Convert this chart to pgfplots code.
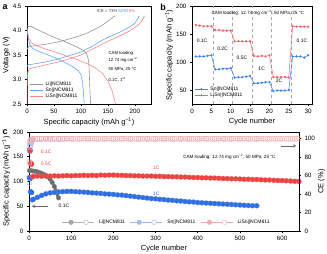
\documentclass[border=0pt]{standalone}
\usepackage{fontspec}
\setmainfont{Liberation Sans}
\usepackage{pgfplots}
\pgfplotsset{compat=1.18}
\definecolor{cgray}{RGB}{150,150,150}
\definecolor{cblueA}{RGB}{100,165,250}
\definecolor{credA}{RGB}{250,135,135}
\definecolor{cblueB}{RGB}{60,130,240}
\definecolor{credB}{RGB}{240,100,100}
\definecolor{cgrayC}{RGB}{105,105,105}
\definecolor{cblueC}{RGB}{45,110,225}
\definecolor{credC}{RGB}{235,65,65}
\definecolor{cpink}{RGB}{245,175,175}
\definecolor{cblueCE}{RGB}{150,190,245}
\definecolor{cgrayCE}{RGB}{185,185,185}
\pgfplotsset{every axis/.append style={
  scale only axis, tick align=outside,
  tick label style={font=\fontsize{6.3}{7}\selectfont},
  label style={font=\fontsize{7.5}{8}\selectfont},
  /pgf/number format/assume math mode=true,
  major tick length=2pt,
  axis line style={line width=0.5pt},
  every tick/.style={line width=0.5pt, black}
}}
\begin{document}
\begin{tikzpicture}
\path[use as bounding box] (0,0) rectangle (327bp,254bp);
% ---------------- panel a
\begin{axis}[at={(27bp,150bp)}, anchor=south west, width=124bp, height=98bp,
  xmin=0, xmax=230, ymin=2.5, ymax=4.5,
  xtick={0,50,...,200}, ytick={2.5,3.0,3.5,4.0,4.5},
  xtick pos=bottom, ytick pos=left,
  yticklabel={\pgfmathprintnumber[fixed,fixed zerofill,precision=1,assume math mode=true]{\tick}},
  xlabel={Specific capacity (mAh g\textsuperscript{−1})}, ylabel={Voltage (V)},
  xlabel style={yshift=3pt}, ylabel style={yshift=-4pt},
  legend style={at={(0.01,0.02)}, anchor=south west, draw=none, fill=none,
    font=\fontsize{5}{6}\selectfont, row sep=-3pt, inner sep=1pt},
  legend cell align=left, legend image post style={xscale=0.8}]
\addplot[cgray, line width=0.6pt] coordinates {(0,3.62)(3,3.67)(15,3.69)(35,3.72)(55,3.76)(73,3.81)(95,3.88)(110,3.94)(125,4.02)(140,4.11)(150,4.19)(158,4.26)(163,4.30)};
\addlegendentry{Li||NCM811}
\addplot[cblueA, line width=0.6pt] coordinates {(0,3.26)(2,3.30)(15,3.32)(35,3.36)(55,3.41)(73,3.47)(100,3.56)(125,3.70)(136,3.78)(150,3.86)(167,3.94)(180,4.01)(192,4.08)(200,4.15)(205,4.23)(208,4.30)};
\addlegendentry{Sn||NCM811}
\addplot[credA, line width=0.6pt] coordinates {(0,2.50)(0.5,3.00)(1.5,3.15)(5,3.22)(20,3.26)(35,3.30)(55,3.35)(73,3.40)(100,3.50)(125,3.64)(150,3.78)(170,3.88)(190,3.99)(205,4.10)(213,4.19)(218,4.30)};
\addlegendentry{LiSn||NCM811}
\addplot[cgray, line width=0.6pt, forget plot] coordinates {(0,4.09)(8,4.08)(15,4.04)(25,3.99)(40,3.91)(55,3.84)(75,3.75)(95,3.65)(105,3.59)(110,3.54)(113,3.45)(115,3.30)(116,3.00)(117,2.70)(118,2.50)};
\addplot[cblueA, line width=0.6pt, forget plot] coordinates {(0,4.05)(2,3.85)(5,3.72)(10,3.64)(20,3.58)(35,3.52)(55,3.43)(73,3.33)(85,3.26)(95,3.18)(100,3.10)(103,2.95)(105,2.70)(106,2.50)};
\addplot[credA, line width=0.6pt, forget plot] coordinates {(0,4.05)(3,3.85)(8,3.75)(20,3.68)(35,3.62)(50,3.57)(73,3.48)(90,3.42)(110,3.33)(125,3.25)(140,3.12)(150,2.97)(157,2.80)(162,2.60)(164,2.50)};
\node[font=\fontsize{4.3}{5}\selectfont, text=black!75, anchor=west, inner sep=0pt] at (axis cs:129,4.40) {ICE = 73\%};
\node[font=\fontsize{4.3}{5}\selectfont, text=cblueB, anchor=west, inner sep=0pt] at (axis cs:169,4.40) {52\%};
\node[font=\fontsize{4.3}{5}\selectfont, text=credB, anchor=west, inner sep=0pt] at (axis cs:184,4.40) {75\%};
\node[font=\fontsize{4.3}{5}\selectfont, anchor=west, inner sep=0pt] at (axis cs:151,3.53) {CAM loading:};
\node[font=\fontsize{4.3}{5}\selectfont, anchor=west, inner sep=0pt] at (axis cs:151,3.39) {12.74 mg cm\textsuperscript{−2}};
\node[font=\fontsize{4.3}{5}\selectfont, anchor=west, inner sep=0pt] at (axis cs:151,3.20) {50 MPa, 25 °C};
\node[font=\fontsize{4.3}{5}\selectfont, anchor=west, inner sep=0pt] at (axis cs:151,2.99) {0.1C, 1\textsuperscript{st}};
\end{axis}
% ---------------- panel b
\begin{axis}[at={(192bp,150bp)}, anchor=south west, width=120bp, height=98bp,
  xmin=0, xmax=31, ymin=25, ymax=200,
  xtick={0,5,...,30}, ytick={50,100,150,200},
  xtick pos=bottom, ytick pos=left,
  xlabel={Cycle number}, ylabel={Specific capacity (mAh g\textsuperscript{−1})},
  xlabel style={yshift=3pt}, ylabel style={yshift=-4pt},
  legend style={at={(0.01,0.03)}, anchor=south west, draw=none, fill=none,
    font=\fontsize{5}{6}\selectfont, row sep=-3pt, inner sep=1pt},
  legend cell align=left, legend image post style={xscale=0.8}]
\addplot[gray!70, dashed, line width=0.4pt, forget plot] coordinates {(5.5,25)(5.5,200)};
\addplot[gray!70, dashed, line width=0.4pt, forget plot] coordinates {(10.5,25)(10.5,200)};
\addplot[gray!70, dashed, line width=0.4pt, forget plot] coordinates {(15.5,25)(15.5,200)};
\addplot[gray!70, dashed, line width=0.4pt, forget plot] coordinates {(20.5,25)(20.5,200)};
\addplot[gray!70, dashed, line width=0.4pt, forget plot] coordinates {(25.5,25)(25.5,200)};
\addplot[cblueB, line width=0.5pt, mark=*, mark size=0.9pt] coordinates {(1,110)(2,110)(3,110)(4,111)(5,112)(6,87)(7,87)(8,88)(9,88)(10,89)(11,72)(12,73)(13,73)(14,74)(15,75)(16,62)(17,62)(18,63)(19,64)(20,64)(21,48)(22,49)(23,49)(24,49)(25,50)(26,110)(27,110)(28,110)(29,108)(30,112)};
\addlegendentry{Sn||NCM811}
\addplot[credB, line width=0.5pt, mark=*, mark size=0.9pt] coordinates {(1,166)(2,165)(3,164)(4,164)(5,164)(6,157)(7,157)(8,156)(9,156)(10,156)(11,137)(12,137)(13,137)(14,137)(15,137)(16,111)(17,110)(18,111)(19,110)(20,112)(21,73)(22,73)(23,73)(24,73)(25,72)(26,164)(27,163)(28,163)(29,163)(30,163)};
\addlegendentry{LiSn||NCM811}
\node[font=\fontsize{5}{6}\selectfont] at (axis cs:2.6,138) {0.1C};
\node[font=\fontsize{5}{6}\selectfont] at (axis cs:7.9,123) {0.2C};
\node[font=\fontsize{5}{6}\selectfont] at (axis cs:12.9,107) {0.5C};
\node[font=\fontsize{5}{6}\selectfont] at (axis cs:18,88) {1C};
\node[font=\fontsize{5}{6}\selectfont] at (axis cs:22.5,66) {2C};
\node[font=\fontsize{5}{6}\selectfont] at (axis cs:28.4,137) {0.1C};
\node[font=\fontsize{4.6}{6}\selectfont] at (axis cs:17,188) {CAM loading: 12.74 mg cm\textsuperscript{−2}, 50 MPa, 25 °C};
\end{axis}
% ---------------- panel c (capacity)
\begin{axis}[at={(29bp,23bp)}, anchor=south west, width=270bp, height=99bp,
  xmin=0, xmax=640, ymin=0, ymax=200,
  xtick={0,100,...,600}, ytick={0,50,...,200},
  xtick pos=bottom, ytick pos=left,
  xlabel={Cycle number}, ylabel={Specific capacity (mAh g\textsuperscript{−1})},
  xlabel style={yshift=3pt}, ylabel style={yshift=-4pt},
  legend style={at={(0.51,0.03)}, anchor=south, draw=none, fill=none,
    font=\fontsize{5}{6}\selectfont, inner sep=1pt, column sep=3pt},
  legend columns=3, legend cell align=left]
\addlegendimage{legend image code/.code={\draw[black!30, line width=0.4pt] (0bp,0bp) -- (32bp,0bp); \fill[black!35] (9bp,0bp) circle (2.3bp); \draw[black!30, fill=white] (24bp,0bp) circle (2.3bp);}}
\addlegendentry{Li||NCM811}
\addlegendimage{legend image code/.code={\draw[cblueC!45, line width=0.4pt] (0bp,0bp) -- (32bp,0bp); \fill[cblueC!45] (9bp,0bp) circle (2.3bp); \draw[cblueC!45, fill=white] (24bp,0bp) circle (2.3bp);}}
\addlegendentry{Sn||NCM811}
\addlegendimage{legend image code/.code={\draw[credC!45, line width=0.4pt] (0bp,0bp) -- (32bp,0bp); \fill[credC!45] (9bp,0bp) circle (2.3bp); \draw[credC!45, fill=white] (24bp,0bp) circle (2.3bp);}}
\addlegendentry{LiSn||NCM811}
% gray Li||NCM811
\addplot[cgrayC, line width=3pt, mark=*, mark size=2.3pt, mark options={line width=0.3pt, fill=cgrayC, draw=cgrayC!80}, forget plot] coordinates {(1,122)(5,122)(10,121)(15,120.5)(20,119.5)(25,118)(30,116.5)(35,114.5)(40,112.5)(45,109.5)(50,105)(55,98)(60,90)(65,79)(70,67)};
% blue Sn||NCM811
\addplot[only marks, mark=*, mark size=2.5pt, cblueC, mark options={line width=0.3pt, fill=cblueC}, forget plot] coordinates {(1,108)(2,107)(3,106)(4,79)(5,78)(6,78)};
\addplot[cblueC, line width=3.5pt, mark=*, mark size=2.5pt, mark options={line width=0.3pt, fill=cblueC, draw=cblueC!80}, forget plot] coordinates {(8,63)(10,64)(20,68)(30,72)(40,75)(50,77)(60,78)(70,79)(80,79.5)(90,80)(100,80)(110,79.5)(120,79)(130,78.5)(140,78)(150,77)(160,76.5)(170,76)(180,75)(190,74.5)(200,74)(210,73)(220,72.5)(230,71.5)(240,70.5)(250,69.5)(260,68.5)(270,67.5)(280,66.5)(290,65.5)(300,65)(310,64)(320,63.5)(330,62.5)(340,62)(350,61)(360,60.5)(370,59.5)(380,59)(390,58.5)(400,57.5)(410,57)(420,56.5)(430,56)(440,55.5)(450,55)(460,54.5)(470,54)(480,53.5)(490,53)(500,52.5)(510,52)(520,51.5)(530,51)(540,51)};
% red LiSn||NCM811
\addplot[only marks, mark=*, mark size=2.5pt, credC, mark options={line width=0.3pt, fill=credC}, forget plot] coordinates {(1,164)(2,163)(3,162)(4,137)(5,136)(6,135)};
\addplot[credC, line width=3.5pt, mark=*, mark size=2.5pt, mark options={line width=0.3pt, fill=credC, draw=credC!80}, forget plot] coordinates {(8,110)(10,110)(20,111)(30,110.5)(40,111)(50,111)(60,111.5)(70,111)(80,111.5)(90,112)(100,111.5)(110,112)(120,112)(130,112.5)(140,112)(150,112.5)(160,112)(170,113)(180,112.5)(190,113)(200,113)(210,112.5)(220,112.5)(230,112)(240,112)(250,111.5)(260,111.5)(270,111)(280,111)(290,111)(300,110.5)(310,110.5)(320,110)(330,110)(340,109.5)(350,109.5)(360,109)(370,109)(380,108.5)(390,108)(400,108)(410,107.5)(420,107.5)(430,107)(440,107)(450,106.5)(460,106)(470,106)(480,105.5)(490,105.5)(500,105)(510,104.5)(520,104.5)(530,104)(540,104)(550,103.5)(560,103)(570,103)(580,102.5)(590,102)(600,102)(610,101.5)(620,101)(630,100.5)(640,100)};
\draw[->, cgrayC, line width=0.6pt, >=stealth] (axis cs:45,50) -- (axis cs:6,50);
\node[font=\fontsize{5}{6}\selectfont, anchor=west] at (axis cs:62,50) {0.1C};
\node[font=\fontsize{5}{6}\selectfont, text=credC, anchor=west] at (axis cs:20,161) {0.1C};
\node[font=\fontsize{5}{6}\selectfont, text=credC, anchor=west] at (axis cs:20,135) {0.5C};
\node[font=\fontsize{5}{6}\selectfont, text=credC] at (axis cs:302,127) {1C};
\node[font=\fontsize{5}{6}\selectfont, text=cblueC] at (axis cs:302,75) {1C};
\node[font=\fontsize{4.6}{6}\selectfont] at (axis cs:475,150) {CAM loading: 12.74 mg cm\textsuperscript{−2}, 50 MPa, 25 °C};
\end{axis}
% ---------------- panel c (CE)
\begin{axis}[at={(29bp,23bp)}, anchor=south west, width=270bp, height=99bp,
  xmin=0, xmax=640, ymin=0, ymax=107,
  ytick={0,20,...,100}, hide x axis, axis y line*=right, ytick pos=right,
  ylabel={CE (\%)}, ylabel style={yshift=4pt}]
\addplot[only marks, mark=o, mark size=2.6pt, cgrayCE, line width=0.4pt] coordinates {(1,73)(2,96)(3,98)(5,99)(10,99.5)(20,99.7)(30,99.6)(40,99.8)(50,99.5)(60,99.7)(70,99.4)};
\addplot[only marks, mark=o, mark size=2.6pt, cblueCE, line width=0.4pt] coordinates {(1,52)(2,86)(3,91)(4,93)(5,95)(6,96)(8,98)(10,99)(20,99.5)(30,99.6)(40,99.7)(50,99.6)(60,99.8)(70,99.7)(80,99.6)(90,99.8)(100,99.7)(120,99.6)(140,99.8)(160,99.7)(180,99.6)(200,99.8)(220,99.7)(240,99.6)(260,99.8)(280,99.7)(300,99.6)(320,99.8)(340,99.7)(360,99.6)(380,99.8)(400,99.7)(420,99.6)(440,99.8)(460,99.7)(480,99.6)(500,99.8)(520,99.7)(540,99.6)};
\addplot[only marks, mark=o, mark size=2.6pt, cpink, line width=0.4pt] coordinates {(1,75)(2,93)(3,97)(4,97.5)(5,98.5)(6,98)(8,99)(10,99.6)(15,99.7)(20,99.8)(25,99.6)(30,99.7)(35,99.9)(40,99.8)(45,99.6)(50,99.8)(55,99.7)(60,99.7)(65,99.9)(70,99.8)(75,99.6)(80,99.8)(85,99.7)(90,99.7)(95,99.9)(100,99.8)(105,99.6)(110,99.8)(115,99.7)(120,99.7)(125,99.9)(130,99.8)(135,99.6)(140,99.8)(145,99.7)(150,99.7)(155,99.9)(160,99.8)(165,99.6)(170,99.8)(175,99.7)(180,99.7)(185,99.9)(190,99.8)(195,99.6)(200,99.8)(205,99.7)(210,99.7)(215,99.9)(220,99.8)(225,99.6)(230,99.8)(235,99.7)(240,99.7)(245,99.9)(250,99.8)(255,99.6)(260,99.8)(265,99.7)(270,99.7)(275,99.9)(280,99.8)(285,99.6)(290,99.8)(295,99.7)(300,99.7)(305,99.9)(310,99.8)(315,99.6)(320,99.8)(325,99.7)(330,99.7)(335,99.9)(340,99.8)(345,99.6)(350,99.8)(355,99.7)(360,99.7)(365,99.9)(370,99.8)(375,99.6)(380,99.8)(385,99.7)(390,99.7)(395,99.9)(400,99.8)(405,99.6)(410,99.8)(415,99.7)(420,99.7)(425,99.9)(430,99.8)(435,99.6)(440,99.8)(445,99.7)(450,99.7)(455,99.9)(460,99.8)(465,99.6)(470,99.8)(475,99.7)(480,99.7)(485,99.9)(490,99.8)(495,99.6)(500,99.8)(505,99.7)(510,99.7)(515,99.9)(520,99.8)(525,99.6)(530,99.8)(535,99.7)(540,99.7)(545,99.9)(550,99.8)(555,99.6)(560,99.8)(565,99.7)(570,99.7)(575,99.9)(580,99.8)(585,99.6)(590,99.8)(595,99.7)(600,99.7)(605,99.9)(610,99.8)(615,99.6)(620,99.8)(625,99.7)(630,99.7)(635,99.9)(640,99.8)};
\draw[->, cgrayC, line width=0.6pt, >=stealth] (axis cs:598,92) -- (axis cs:634,92);
\end{axis}
% panel letters
\node[font=\bfseries\fontsize{9}{9}\selectfont, anchor=center] at (5bp,247bp) {a};
\node[font=\bfseries\fontsize{9}{9}\selectfont, anchor=center] at (163bp,247bp) {b};
\node[font=\bfseries\fontsize{9}{9}\selectfont, anchor=center] at (5bp,122bp) {c};
\end{tikzpicture}
\end{document}
